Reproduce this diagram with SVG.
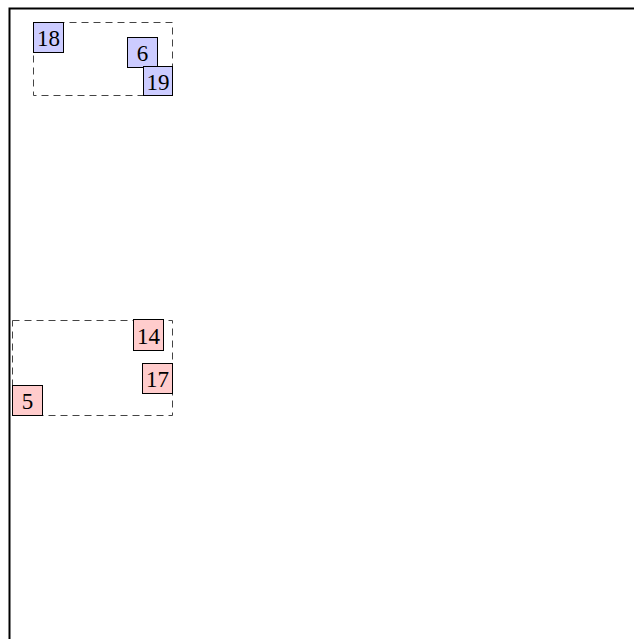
<svg xmlns="http://www.w3.org/2000/svg" width="634" height="639" viewBox="0 0 634 639">
<style>
.frame{fill:none;stroke:#000;stroke-width:2}
.grp{fill:none;stroke:#444;stroke-width:1;stroke-dasharray:7,5}
.b rect{fill:#ccccff;stroke:#000;stroke-width:1}
.r rect{fill:#ffcccc;stroke:#000;stroke-width:1}
text{font-family:"Liberation Serif","DejaVu Serif",serif;font-size:23px;fill:#000;text-anchor:middle}
</style>
<rect width="634" height="639" fill="#fff"/>
<path class="frame" d="M9.5,639 V8.5 H634"/>
<g id="groups">
<rect class="grp" x="33.5" y="22.5" width="139" height="73"/>
<rect class="grp" x="12.5" y="320.5" width="160" height="95"/>
</g>
<g id="connectors"></g>
<g id="n18" class="b"><rect x="33.5" y="22.5" width="30" height="30"/><text x="48.5" y="46">18</text></g>
<g id="n6" class="b"><rect x="127.5" y="37.5" width="30" height="30"/><text x="142.5" y="61">6</text></g>
<g id="n19" class="b"><rect x="143.5" y="66.5" width="29" height="29"/><text x="158" y="89.5">19</text></g>
<g id="n14" class="r"><rect x="133.5" y="319.5" width="30" height="31"/><text x="148.5" y="343.5">14</text></g>
<g id="n17" class="r"><rect x="142.5" y="363.5" width="30" height="30"/><text x="157.5" y="387">17</text></g>
<g id="n5" class="r"><rect x="12.5" y="385.5" width="30" height="30"/><text x="27.5" y="409">5</text></g>
</svg>
